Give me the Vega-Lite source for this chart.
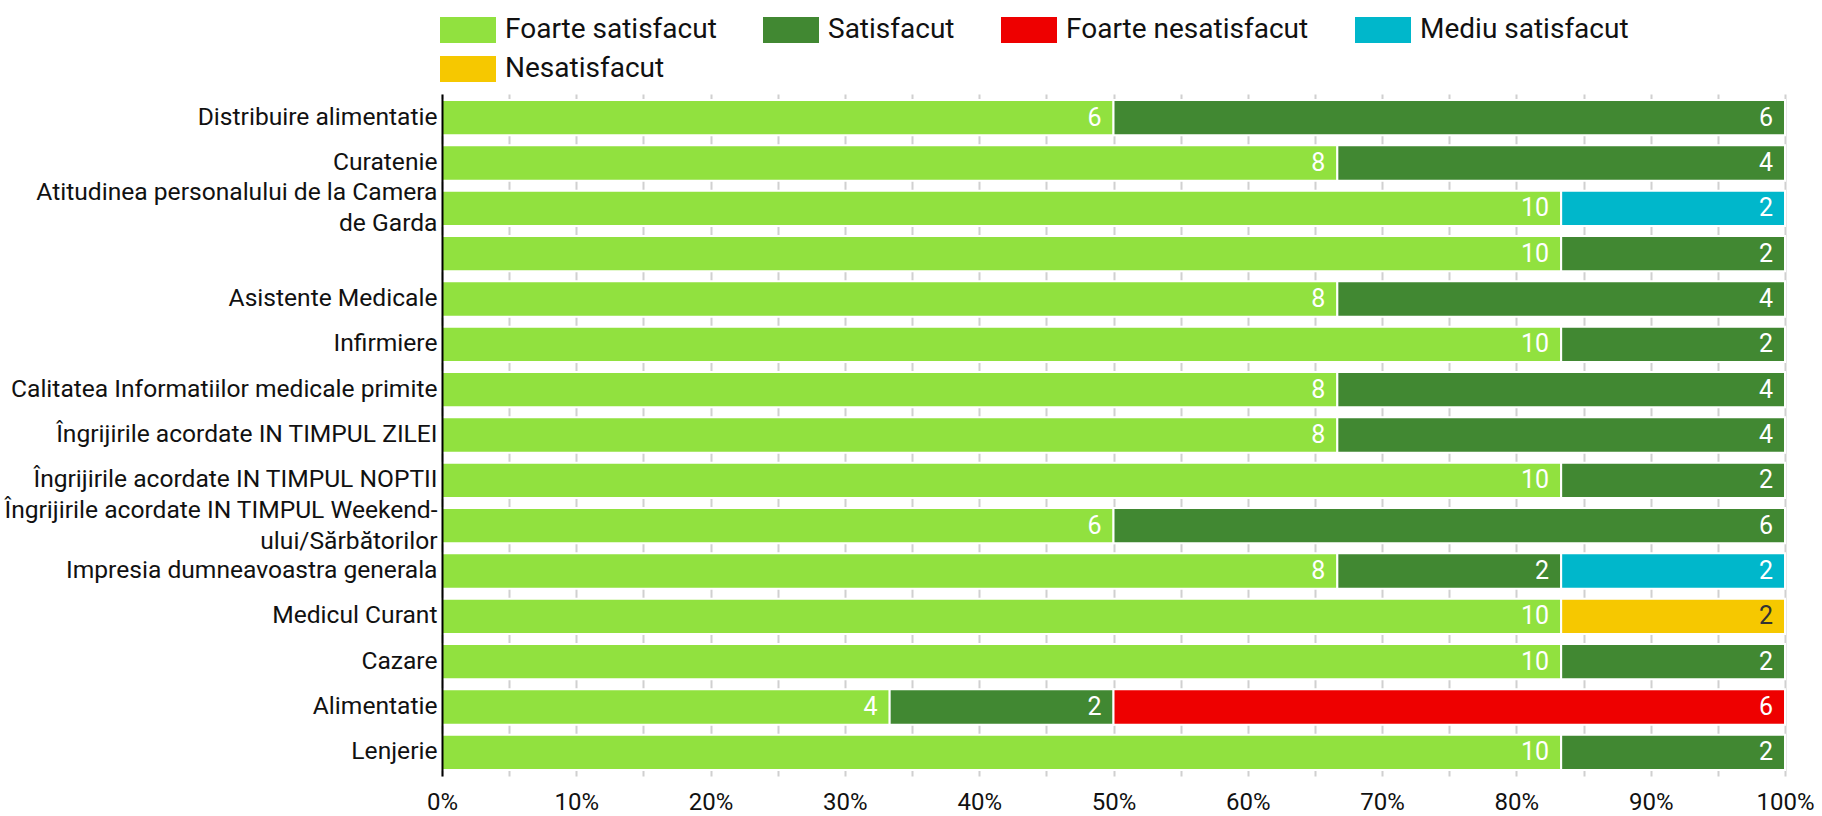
{
  "$schema": "https://vega.github.io/schema/vega-lite/v6.json",
  "autosize": {"type": "none"},
  "width": 1343,
  "height": 682,
  "padding": {"left": 442, "top": 94, "right": 37, "bottom": 40},
  "background": "white",
  "config": {
    "view": {"stroke": null},
    "font": "Roboto",
    "text": {"font": "Roboto"}
  },
  "data": {
    "values": [
      {"q": "Distribuire alimentatie", "r": "Foarte satisfacut", "n": 6},
      {"q": "Distribuire alimentatie", "r": "Satisfacut", "n": 6},
      {"q": "Curatenie", "r": "Foarte satisfacut", "n": 8},
      {"q": "Curatenie", "r": "Satisfacut", "n": 4},
      {"q": "Atitudinea personalului de la Camera|de Garda", "r": "Foarte satisfacut", "n": 10},
      {"q": "Atitudinea personalului de la Camera|de Garda", "r": "Mediu satisfacut", "n": 2},
      {"q": " ", "r": "Foarte satisfacut", "n": 10},
      {"q": " ", "r": "Satisfacut", "n": 2},
      {"q": "Asistente Medicale", "r": "Foarte satisfacut", "n": 8},
      {"q": "Asistente Medicale", "r": "Satisfacut", "n": 4},
      {"q": "Infirmiere", "r": "Foarte satisfacut", "n": 10},
      {"q": "Infirmiere", "r": "Satisfacut", "n": 2},
      {"q": "Calitatea Informatiilor medicale primite", "r": "Foarte satisfacut", "n": 8},
      {"q": "Calitatea Informatiilor medicale primite", "r": "Satisfacut", "n": 4},
      {"q": "Îngrijirile acordate IN TIMPUL ZILEI", "r": "Foarte satisfacut", "n": 8},
      {"q": "Îngrijirile acordate IN TIMPUL ZILEI", "r": "Satisfacut", "n": 4},
      {"q": "Îngrijirile acordate IN TIMPUL NOPTII", "r": "Foarte satisfacut", "n": 10},
      {"q": "Îngrijirile acordate IN TIMPUL NOPTII", "r": "Satisfacut", "n": 2},
      {"q": "Îngrijirile acordate IN TIMPUL Weekend-|ului/Sărbătorilor", "r": "Foarte satisfacut", "n": 6},
      {"q": "Îngrijirile acordate IN TIMPUL Weekend-|ului/Sărbătorilor", "r": "Satisfacut", "n": 6},
      {"q": "Impresia dumneavoastra generala", "r": "Foarte satisfacut", "n": 8},
      {"q": "Impresia dumneavoastra generala", "r": "Satisfacut", "n": 2},
      {"q": "Impresia dumneavoastra generala", "r": "Mediu satisfacut", "n": 2},
      {"q": "Medicul Curant", "r": "Foarte satisfacut", "n": 10},
      {"q": "Medicul Curant", "r": "Nesatisfacut", "n": 2},
      {"q": "Cazare", "r": "Foarte satisfacut", "n": 10},
      {"q": "Cazare", "r": "Satisfacut", "n": 2},
      {"q": "Alimentatie", "r": "Foarte satisfacut", "n": 4},
      {"q": "Alimentatie", "r": "Satisfacut", "n": 2},
      {"q": "Alimentatie", "r": "Foarte nesatisfacut", "n": 6},
      {"q": "Lenjerie", "r": "Foarte satisfacut", "n": 10},
      {"q": "Lenjerie", "r": "Satisfacut", "n": 2}
    ]
  },
  "transform": [
    {"calculate": "indexof(['Foarte satisfacut','Satisfacut','Foarte nesatisfacut','Mediu satisfacut','Nesatisfacut'], datum.r)", "as": "ord"}
  ],
  "encoding": {
    "y": {
      "field": "q",
      "type": "nominal",
      "sort": null,
      "scale": {"paddingInner": 0.22, "paddingOuter": 0.132},
      "axis": {
        "title": null,
        "zindex": 1,
        "labelExpr": "split(datum.label, '|')",
        "labelOffset": {"condition": {"test": "indexof(datum.value, '|') >= 0", "value": -15}, "value": 0},
        "labelFont": "Roboto",
        "labelFontSize": 24.6,
        "labelColor": "#111111",
        "labelLineHeight": 31,
        "labelLimit": 700,
        "labelPadding": 5,
        "ticks": false,
        "domain": true,
        "domainColor": "#000000",
        "domainWidth": 2,
        "grid": false
      }
    },
    "x": {
      "field": "n",
      "type": "quantitative",
      "stack": "normalize",
      "scale": {"domain": [0, 1], "nice": false},
      "axis": {
        "title": null,
        "values": [0, 0.05, 0.1, 0.15, 0.2, 0.25, 0.3, 0.35, 0.4, 0.45, 0.5, 0.55, 0.6, 0.65, 0.7, 0.75, 0.8, 0.85, 0.9, 0.95, 1],
        "labelExpr": "round(datum.value * 100) % 10 == 0 ? format(datum.value, '.0%') : ''",
        "labelFont": "Roboto",
        "labelFontSize": 24,
        "labelColor": "#111111",
        "labelPadding": 14,
        "labelFlush": false,
        "labelOverlap": false,
        "ticks": false,
        "domain": false,
        "grid": true,
        "gridColor": "#d0d0d0",
        "gridWidth": 2
      }
    },
    "order": {"field": "ord", "type": "quantitative"}
  },
  "layer": [
    {
      "mark": {"type": "bar", "stroke": "white", "strokeWidth": 2},
      "encoding": {
        "color": {
          "field": "r",
          "type": "nominal",
          "scale": {
            "domain": ["Foarte satisfacut", "Satisfacut", "Foarte nesatisfacut", "Mediu satisfacut", "Nesatisfacut"],
            "range": ["#91e13f", "#418832", "#ee0000", "#00b7cb", "#f6c800"]
          },
          "legend": {
            "title": null,
            "orient": "none",
            "legendX": -2,
            "legendY": -92,
            "direction": "horizontal",
            "columns": 4,
            "gridAlign": "none",
            "columnPadding": 46,
            "rowPadding": -3,
            "symbolType": "M-1,-0.46H1V0.46H-1Z",
            "symbolSize": 3136,
            "symbolStrokeWidth": 0,
            "symbolOpacity": 1,
            "labelFont": "Roboto",
            "labelFontSize": 28,
            "labelColor": "#111111",
            "labelOffset": 9,
            "labelLimit": 400
          }
        }
      }
    },
    {
      "mark": {"type": "text", "align": "right", "baseline": "middle", "dx": -12, "fontSize": 25, "font": "Roboto"},
      "encoding": {
        "text": {"field": "n", "type": "quantitative"},
        "color": {
          "condition": {"test": "datum.r === 'Nesatisfacut'", "value": "#333333"},
          "value": "#ffffff"
        }
      }
    }
  ]
}
